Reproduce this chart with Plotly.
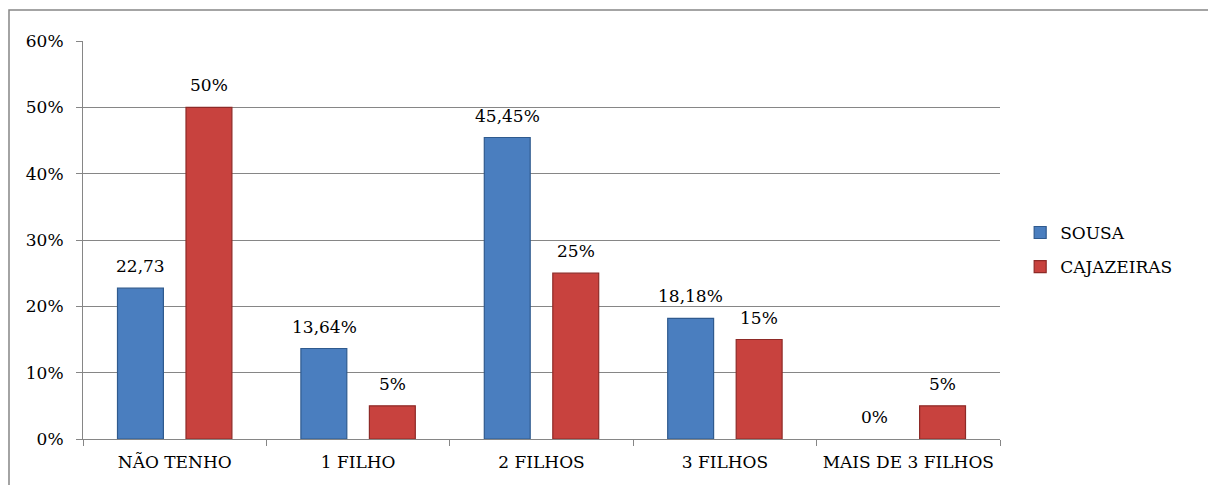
import plotly.graph_objects as go

categories = ["NÃO TENHO", "1 FILHO", "2 FILHOS", "3 FILHOS", "MAIS DE 3 FILHOS"]
sousa = [22.73, 13.64, 45.45, 18.18, 0]
cajazeiras = [50, 5, 25, 15, 5]
sousa_labels = ["22,73", "13,64%", "45,45%", "18,18%", "0%"]
caj_labels = ["50%", "5%", "25%", "15%", "5%"]
y_ticks = [0, 10, 20, 30, 40, 50, 60]
y_tick_labels = ["0%", "10%", "20%", "30%", "40%", "50%", "60%"]

FONT = "DejaVu Serif"
FS = 17
GRAY = "#868686"

fig = go.Figure()
fig.add_trace(go.Bar(
    x=categories, y=sousa, name="SOUSA", legendgroup="a",
    marker=dict(color="#4A7EBF",
                line=dict(color="#2F5A8E", width=[1.2 if v > 0 else 0 for v in sousa])),
    textposition="none",
))
fig.add_trace(go.Bar(
    x=categories, y=cajazeiras, name="CAJAZEIRAS", legendgroup="b",
    marker=dict(color="#C8423E",
                line=dict(color="#8E2A27", width=[1.2 if v > 0 else 0 for v in cajazeiras])),
    textposition="none",
))

for i, cat in enumerate(categories):
    fig.add_annotation(x=cat, y=sousa[i], text=sousa_labels[i], showarrow=False,
                       xshift=-34, yshift=22, font=dict(family=FONT, size=FS, color="#000"))
    fig.add_annotation(x=cat, y=cajazeiras[i], text=caj_labels[i], showarrow=False,
                       xshift=34, yshift=22, font=dict(family=FONT, size=FS, color="#000"))

fig.add_shape(type="rect", xref="paper", yref="paper",
              x0=-0.0807, x1=1.4, y0=-0.3, y1=1.0779,
              line=dict(color=GRAY, width=1.5), fillcolor="rgba(0,0,0,0)", layer="below")

fig.update_layout(
    width=1208, height=485,
    margin=dict(l=83, r=208, t=41, b=46),
    paper_bgcolor="white", plot_bgcolor="white",
    font=dict(family=FONT, size=FS, color="#000"),
    barmode="group", bargap=0.253, bargroupgap=0.33,
    showlegend=True,
    legend=dict(x=1.022, y=0.475, xanchor="left", yanchor="middle",
                font=dict(family=FONT, size=FS, color="#000"),
                tracegroupgap=9, itemwidth=30, bgcolor="rgba(0,0,0,0)"),
    xaxis=dict(showline=True, linecolor=GRAY, linewidth=1, ticks="outside",
               tickson="boundaries", ticklen=6, tickcolor=GRAY, showgrid=False,
               ticklabelstandoff=8,
               tickfont=dict(family=FONT, size=FS, color="#000")),
    yaxis=dict(range=[0, 60], tickvals=y_ticks, ticktext=y_tick_labels,
               showline=True, linecolor=GRAY, linewidth=1, ticks="outside",
               ticklen=6, tickcolor=GRAY, showgrid=True, gridcolor=GRAY, gridwidth=1,
               zeroline=False, ticklabelstandoff=9,
               tickfont=dict(family=FONT, size=FS, color="#000")),
)

fig.write_html("out.html")
